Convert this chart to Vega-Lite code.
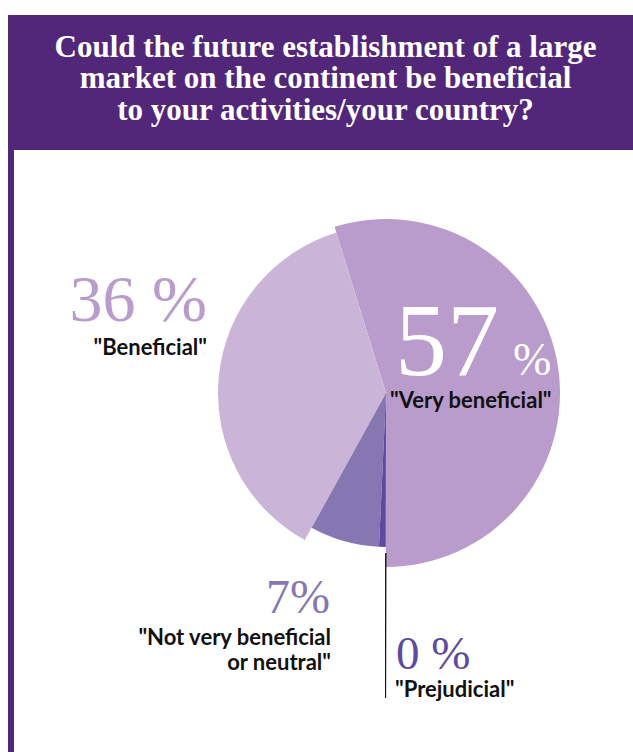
{
  "$schema": "https://vega.github.io/schema/vega-lite/v6.json",
  "padding": {"left": 8, "top": 15, "right": 0, "bottom": 0},
  "background": "white",
  "config": {"view": {"stroke": null}},
  "bounds": "flush",
  "spacing": 0,
  "datasets": {
    "header": [
      {"question": "Could the future establishment of a large\nmarket on the continent be beneficial\nto your activities/your country?"}
    ],
    "slices": [
      {"answer": "Very beneficial", "label": "\"Very beneficial\"", "pct": "57", "share": 54.8, "order": 1},
      {"answer": "Prejudicial", "label": "\"Prejudicial\"", "pct": "0 %", "share": 0.7, "order": 2},
      {"answer": "Not very beneficial or neutral", "label": "\"Not very beneficial\nor neutral\"", "pct": "7%", "share": 7.3, "order": 3},
      {"answer": "Beneficial", "label": "\"Beneficial\"", "pct": "36 %", "share": 37.2, "order": 4}
    ]
  },
  "vconcat": [
    {
      "width": 625,
      "height": 135,
      "view": {"fill": "#52277a", "stroke": null},
      "data": {"name": "header"},
      "mark": {"type": "text", "font": "Liberation Serif", "fontWeight": "bold", "fontSize": 31, "lineHeight": 31.5, "color": "white", "align": "center", "baseline": "middle", "lineBreak": "\n", "dx": 5, "dy": -35},
      "encoding": {"text": {"field": "question"}}
    },
    {
      "bounds": "flush",
      "spacing": 125,
      "hconcat": [
        {
          "width": 6,
          "height": 602,
          "view": {"fill": "#52277a", "stroke": null},
          "data": {"name": "header"},
          "mark": {"type": "text", "opacity": 0},
          "encoding": {"text": {"value": ""}}
        },
        {
          "width": 494,
          "height": 486,
          "data": {"name": "slices"},
          "transform": [
            {"stack": "share", "groupby": [], "sort": [{"field": "order", "order": "ascending"}], "as": ["s0", "s1"]}
          ],
          "layer": [
            {
              "transform": [{"filter": "datum.answer === 'Very beneficial'"}],
              "mark": {"type": "arc", "radius": 174, "fill": "#b99ccb", "stroke": null},
              "encoding": {
                "theta": {"field": "s0", "type": "quantitative", "scale": {"domain": [0, 100], "range": [-0.3002, 5.983]}},
                "theta2": {"field": "s1"}
              }
            },
            {
              "transform": [{"filter": "datum.answer === 'Beneficial'"}],
              "mark": {"type": "arc", "radius": 168, "fill": "#cab5d8", "stroke": null},
              "encoding": {
                "theta": {"field": "s0", "type": "quantitative"},
                "theta2": {"field": "s1"}
              }
            },
            {
              "transform": [{"filter": "datum.answer === 'Not very beneficial or neutral'"}],
              "mark": {"type": "arc", "radius": 154, "fill": "#8677b2", "stroke": null},
              "encoding": {
                "theta": {"field": "s0", "type": "quantitative"},
                "theta2": {"field": "s1"}
              }
            },
            {
              "transform": [{"filter": "datum.answer === 'Prejudicial'"}],
              "mark": {"type": "arc", "radius": 154, "fill": "#5c4a9e", "stroke": null},
              "encoding": {
                "theta": {"field": "s0", "type": "quantitative"},
                "theta2": {"field": "s1"}
              }
            },
            {
              "transform": [{"filter": "datum.answer === 'Prejudicial'"}],
              "mark": {"type": "arc", "radius": 305, "radius2": 160, "filled": false, "color": "#111111", "strokeWidth": 1},
              "encoding": {
                "theta": {"field": "s0", "type": "quantitative"},
                "theta2": {"field": "s0"}
              }
            },
            {
              "transform": [{"filter": "datum.answer === 'Beneficial'"}],
              "mark": {"type": "text", "font": "Liberation Serif", "fontSize": 66, "color": "#b99ccb", "align": "right", "baseline": "alphabetic", "dx": -179, "dy": -72},
              "encoding": {"text": {"field": "pct"}}
            },
            {
              "transform": [{"filter": "datum.answer === 'Beneficial'"}],
              "mark": {"type": "text", "font": "Lato", "fontWeight": "bold", "fontSize": 22, "color": "#111111", "align": "right", "baseline": "alphabetic", "dx": -179, "dy": -38},
              "encoding": {"text": {"field": "label"}}
            },
            {
              "transform": [{"filter": "datum.answer === 'Very beneficial'"}],
              "mark": {"type": "text", "font": "Liberation Serif", "fontSize": 104, "color": "white", "align": "left", "baseline": "alphabetic", "dx": 9, "dy": -18},
              "encoding": {"text": {"field": "pct"}}
            },
            {
              "transform": [{"filter": "datum.answer === 'Very beneficial'"}],
              "mark": {"type": "text", "font": "Liberation Serif", "fontSize": 46, "color": "white", "align": "left", "baseline": "alphabetic", "dx": 127, "dy": -18},
              "encoding": {"text": {"value": "%"}}
            },
            {
              "transform": [{"filter": "datum.answer === 'Very beneficial'"}],
              "mark": {"type": "text", "font": "Lato", "fontWeight": "bold", "fontSize": 22, "color": "#111111", "align": "left", "baseline": "alphabetic", "dx": 4, "dy": 15},
              "encoding": {"text": {"field": "label"}}
            },
            {
              "transform": [{"filter": "datum.answer === 'Not very beneficial or neutral'"}],
              "mark": {"type": "text", "font": "Liberation Serif", "fontSize": 48, "color": "#8677b2", "align": "right", "baseline": "alphabetic", "dx": -56, "dy": 220},
              "encoding": {"text": {"field": "pct"}}
            },
            {
              "transform": [{"filter": "datum.answer === 'Not very beneficial or neutral'"}],
              "mark": {"type": "text", "font": "Lato", "fontWeight": "bold", "fontSize": 22, "lineHeight": 25, "lineBreak": "\n", "color": "#111111", "align": "right", "baseline": "alphabetic", "dx": -55, "dy": 252},
              "encoding": {"text": {"field": "label"}}
            },
            {
              "transform": [{"filter": "datum.answer === 'Prejudicial'"}],
              "mark": {"type": "text", "font": "Liberation Serif", "fontSize": 47, "color": "#5c4a9e", "align": "left", "baseline": "alphabetic", "dx": 10, "dy": 276},
              "encoding": {"text": {"field": "pct"}}
            },
            {
              "transform": [{"filter": "datum.answer === 'Prejudicial'"}],
              "mark": {"type": "text", "font": "Lato", "fontWeight": "bold", "fontSize": 22, "color": "#111111", "align": "left", "baseline": "alphabetic", "dx": 9, "dy": 304},
              "encoding": {"text": {"field": "label"}}
            }
          ]
        }
      ]
    }
  ]
}
